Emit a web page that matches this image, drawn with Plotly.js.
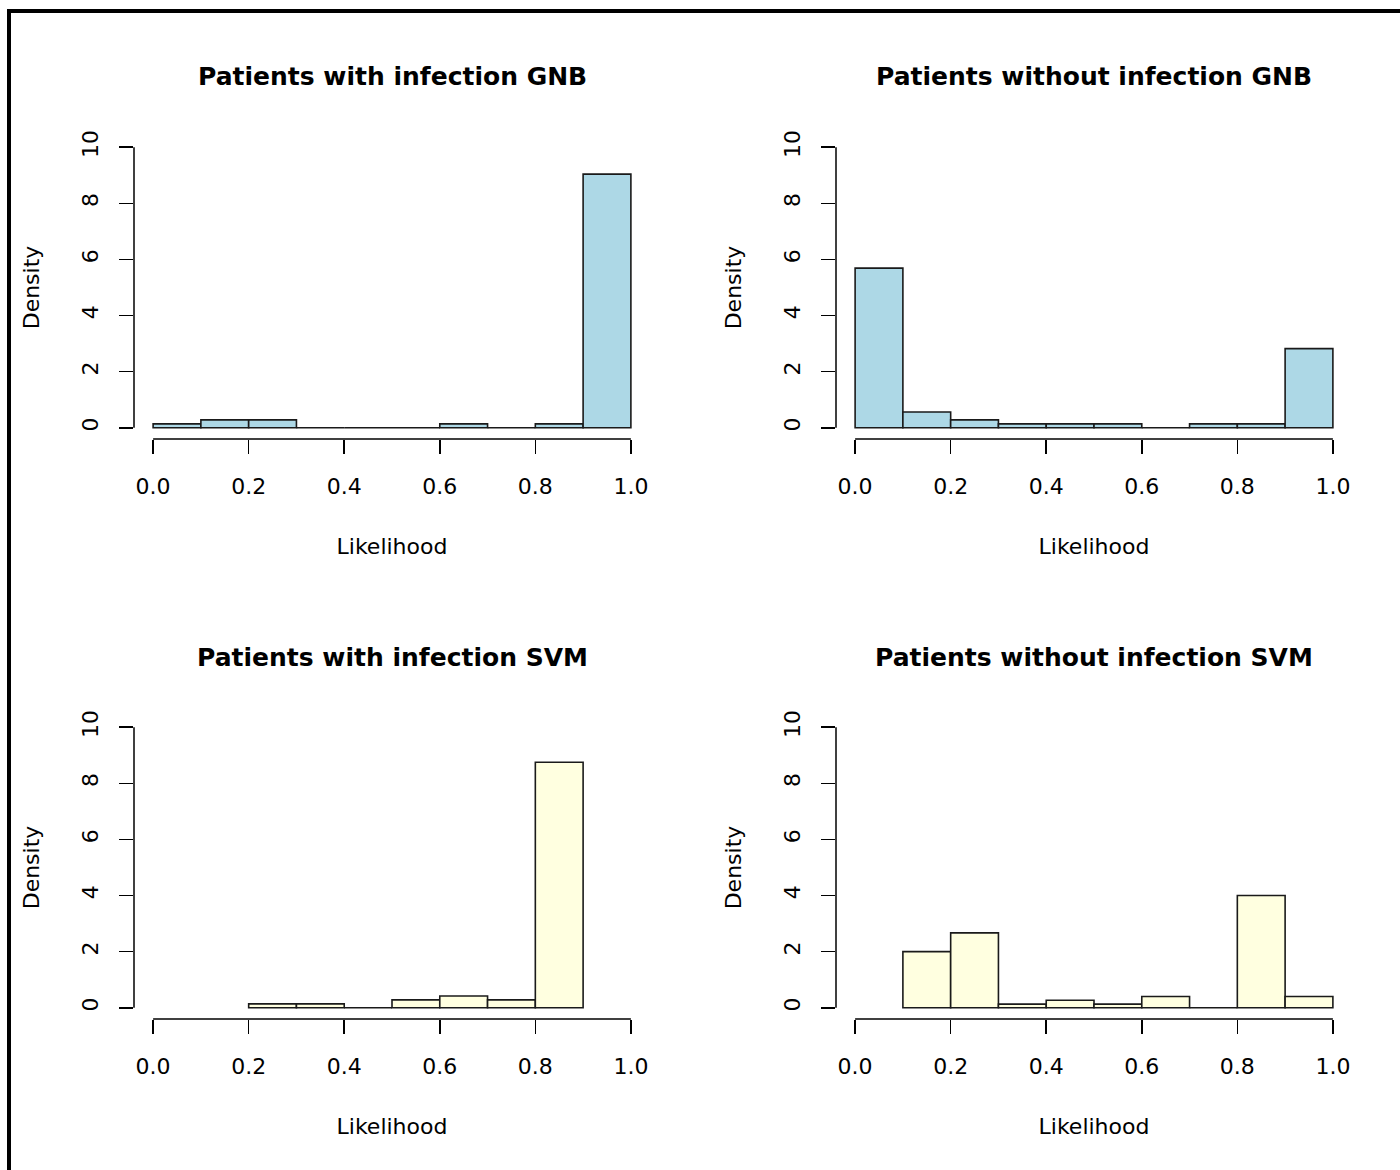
<!DOCTYPE html>
<html>
<head>
<meta charset="utf-8">
<script src="https://cdn.plot.ly/plotly-3.0.1.min.js"></script>
<style>
  html, body { margin: 0; padding: 0; background: #fff; }
  #wrap { position: relative; width: 1400px; height: 1170px; overflow: hidden; }
  #chart { position: absolute; left: 0; top: 0; width: 1400px; height: 1170px; }
  #frame { position: absolute; left: 7px; top: 9px; width: 1500px; height: 1300px;
           border-left: 4px solid #000; border-top: 4px solid #000; pointer-events: none; }
</style>
</head>
<body>
<div id="wrap"><div id="chart"></div><div id="frame"></div></div>
<script>
// ---- data (histogram densities, bin width 0.1) ----
const panelTitles = [
  "Patients with infection GNB",
  "Patients without infection GNB",
  "Patients with infection SVM",
  "Patients without infection SVM"
];
const binWidth = 0.1;
// left edges of bins for each panel
const binsGnbWith    = [0.0, 0.1, 0.2, 0.3, 0.4, 0.5, 0.6, 0.7, 0.8, 0.9];
const binsGnbWithout = [0.0, 0.1, 0.2, 0.3, 0.4, 0.5, 0.6, 0.7, 0.8, 0.9];
const binsSvmWith    = [0.2, 0.3, 0.4, 0.5, 0.6, 0.7, 0.8];
const binsSvmWithout = [0.1, 0.2, 0.3, 0.4, 0.5, 0.6, 0.7, 0.8, 0.9];
// densities
const densGnbWith    = [0.14, 0.28, 0.28, 0, 0, 0, 0.14, 0, 0.14, 9.04];
const densGnbWithout = [5.69, 0.56, 0.28, 0.14, 0.14, 0.14, 0, 0.14, 0.14, 2.82];
const densSvmWith    = [0.14, 0.14, 0, 0.28, 0.42, 0.28, 8.75];
const densSvmWithout = [2.0, 2.67, 0.13, 0.27, 0.13, 0.4, 0, 4.0, 0.4];

const xTickVals = [0, 0.2, 0.4, 0.6, 0.8, 1.0];
const xTickText = ["0.0", "0.2", "0.4", "0.6", "0.8", "1.0"];
const yTickVals = [0, 2, 4, 6, 8, 10];
const yTickText = ["0", "2", "4", "6", "8", "10"];
const xLabel = "Likelihood";
const yLabel = "Density";

const blueFill = "#ADD8E6";
const yellowFill = "#FFFFE0";

// ---- layout geometry (pixels) ----
const W = 1400, H = 1170;
const colPx = [[134, 650], [836, 1352]];
const rowPx = [[136, 439], [716, 1019]];
const titleYPx = [77, 657];

const panels = [
  {bins: binsGnbWith,    dens: densGnbWith,    fill: blueFill,   col: 0, row: 0},
  {bins: binsGnbWithout, dens: densGnbWithout, fill: blueFill,   col: 1, row: 0},
  {bins: binsSvmWith,    dens: densSvmWith,    fill: yellowFill, col: 0, row: 1},
  {bins: binsSvmWithout, dens: densSvmWithout, fill: yellowFill, col: 1, row: 1}
];

const FONT = "DejaVu Sans";
const traces = [];
const layout = {
  width: W, height: H,
  margin: {l: 0, r: 0, t: 0, b: 0, pad: 0},
  paper_bgcolor: "#fff", plot_bgcolor: "#fff",
  showlegend: false,
  bargap: 0,
  font: {family: FONT, size: 22, color: "#000"},
  annotations: [],
  shapes: []
};

panels.forEach((p, i) => {
  const n = i + 1;
  const xa = "xaxis" + (n === 1 ? "" : n);
  const ya = "yaxis" + (n === 1 ? "" : n);
  const xr = "x" + (n === 1 ? "" : n);
  const yr = "y" + (n === 1 ? "" : n);
  const cx = colPx[p.col], ry = rowPx[p.row];

  traces.push({
    type: "bar",
    x: p.bins,
    y: p.dens,
    width: p.bins.map(() => binWidth),
    offset: 0,
    xaxis: xr, yaxis: yr,
    marker: {color: p.fill, line: {color: "#1a1a1a", width: 1.6}},
    hoverinfo: "x+y"
  });

  layout[xa] = {
    domain: [cx[0] / W, cx[1] / W],
    anchor: yr,
    range: [-0.04, 1.04],
    tickmode: "array", tickvals: xTickVals, ticktext: xTickText,
    showgrid: false, zeroline: false, showline: false,
    ticks: "outside", ticklen: 14, tickwidth: 1.5, tickcolor: "#000",
    ticklabelstandoff: 14,
    tickfont: {family: FONT, size: 22, color: "#000"},
    title: {text: xLabel, font: {family: FONT, size: 22, color: "#000"}, standoff: 40},
    fixedrange: true
  };
  layout[ya] = {
    domain: [1 - ry[1] / H, 1 - ry[0] / H],
    anchor: xr,
    range: [-0.4, 10.4],
    tickmode: "array", tickvals: yTickVals, ticktext: yTickText,
    tickangle: -90,
    showgrid: false, zeroline: false, showline: false,
    ticks: "outside", ticklen: 14, tickwidth: 1.5, tickcolor: "#000",
    ticklabelstandoff: 12,
    tickfont: {family: FONT, size: 22, color: "#000"},
    title: {text: yLabel, font: {family: FONT, size: 22, color: "#000"}, standoff: 32},
    fixedrange: true
  };

  // R-style axis lines spanning first to last tick
  layout.shapes.push({
    type: "line", xref: xr, yref: yr + " domain",
    x0: xTickVals[0], x1: xTickVals[xTickVals.length - 1], y0: 0, y1: 0,
    line: {color: "#000", width: 1.5}, layer: "above"
  });
  layout.shapes.push({
    type: "line", xref: xr + " domain", yref: yr,
    x0: 0, x1: 0, y0: yTickVals[0], y1: yTickVals[yTickVals.length - 1],
    line: {color: "#000", width: 1.5}, layer: "above"
  });

  layout.annotations.push({
    text: panelTitles[i],
    xref: "paper", yref: "paper",
    x: (cx[0] + cx[1]) / 2 / W, y: 1 - titleYPx[p.row] / H,
    xanchor: "center", yanchor: "middle", showarrow: false,
    font: {family: FONT, size: 25, color: "#000", weight: "bold"}
  });
});

Plotly.newPlot("chart", traces, layout, {displayModeBar: false, staticPlot: true});
</script>
</body>
</html>
